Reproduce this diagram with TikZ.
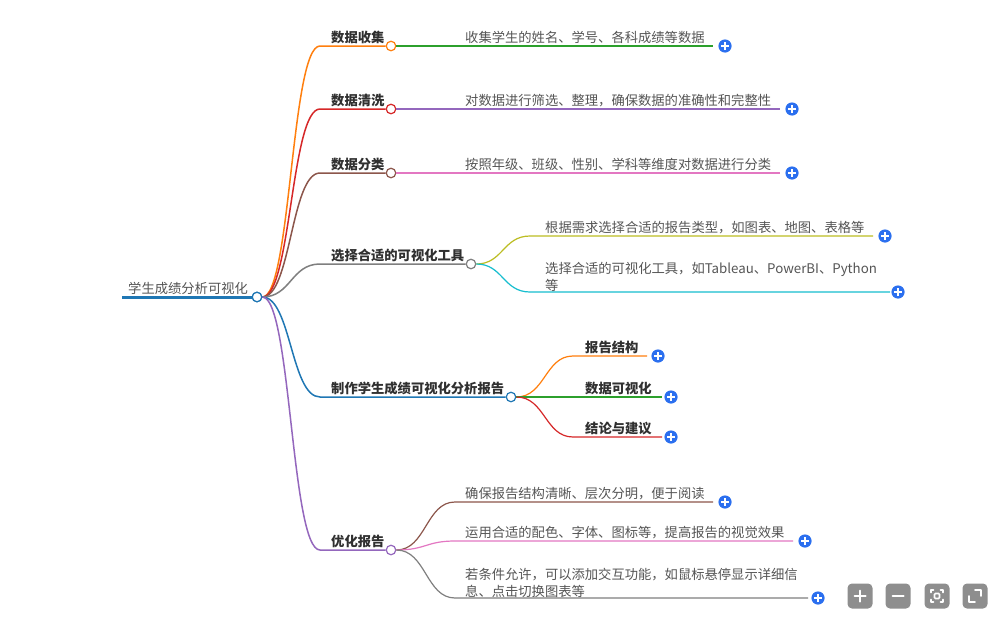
\documentclass[tikz,border=0pt]{standalone}
\usepackage{fontspec}
\setmainfont{Noto Sans CJK SC}
\definecolor{cblue}{HTML}{1F77B4}
\definecolor{corange}{HTML}{FF7F0E}
\definecolor{cgreen}{HTML}{2CA02C}
\definecolor{cred}{HTML}{D62728}
\definecolor{cpurple}{HTML}{9467BD}
\definecolor{cbrown}{HTML}{8C564B}
\definecolor{cpink}{HTML}{E377C2}
\definecolor{cgray}{HTML}{7F7F7F}
\definecolor{colive}{HTML}{BCBD22}
\definecolor{ccyan}{HTML}{17BECF}
\definecolor{plusblue}{HTML}{2B6FEF}
\definecolor{labgray}{HTML}{555555}
\definecolor{darktext}{HTML}{303030}
\definecolor{btngray}{HTML}{8E8E8E}
\tikzset{
  dot/.style={circle, draw=#1, fill=white, line width=1.2pt, minimum size=9.5pt, inner sep=0pt},
  lab/.style={anchor=south west, inner sep=0pt, text depth=0pt, align=left,
    font=\fontsize{13.3}{17}\selectfont, text=labgray},
  blab/.style={lab, font=\fontsize{13.3}{17}\selectfont\bfseries, text=darktext},
  link/.style={draw=#1, line width=1.5pt},
  sublink/.style={draw=#1, line width=1.2pt},
  plusbtn/.pic={\fill[plusblue] (0,0) circle (6.6);
    \draw[white, line width=1.4pt] (-3.6,0) -- (3.6,0) (0,-3.6) -- (0,3.6);},
  tbtn/.style={fill=btngray, rounded corners=4.5pt, minimum size=25pt, inner sep=0pt},
  ticon/.style={white, line width=2pt, line cap=round, line join=round}
}
\begin{document}
\begin{tikzpicture}[x=1pt,y=-1pt]
\fill[white] (0,0) rectangle (1000,624);
\useasboundingbox (0,0) rectangle (1000,624);

% ---------- root ----------
\coordinate (rs) at (122,297);
\node[dot=cblue] (r) at (257,297) {};
\draw[cblue, line width=3pt] (rs) -- (r.west);
\node[lab] (rt) at (128,294) {学生成绩分析可视化};

% ---------- level 1 circles ----------
\node[dot=corange] (n1) at (391,46) {};
\node[dot=cred] (n2) at (391,109) {};
\node[dot=cbrown] (n3) at (391,173) {};
\node[dot=cgray] (n4) at (471,264) {};
\node[dot=cblue] (n5) at (511,397) {};
\node[dot=cpurple] (n6) at (391,550) {};

\coordinate (n1s) at (320,46);
\coordinate (n2s) at (320,109);
\coordinate (n3s) at (320,173);
\coordinate (n4s) at (320,264);
\coordinate (n5s) at (320,397);
\coordinate (n6s) at (320,550);

\draw[link=corange] (r.east) .. controls (291,297) and (291,46) .. (n1s) -- (n1.west);
\draw[link=cred] (r.east) .. controls (291,297) and (291,109) .. (n2s) -- (n2.west);
\draw[link=cbrown] (r.east) .. controls (291,297) and (291,173) .. (n3s) -- (n3.west);
\draw[link=cgray] (r.east) .. controls (291,297) and (291,264) .. (n4s) -- (n4.west);
\draw[link=cblue] (r.east) .. controls (291,297) and (291,397) .. (n5s) -- (n5.west);
\draw[link=cpurple] (r.east) .. controls (291,297) and (291,550) .. (n6s) -- (n6.west);
\node[dot=cblue] at (257,297) {};

\node[blab] (t1) at (331,43) {数据收集};
\node[blab] (t2) at (331,106) {数据清洗};
\node[blab] (t3) at (331,170) {数据分类};
\node[blab] (t4) at (331,261) {选择合适的可视化工具};
\node[blab] (t5) at (331,394) {制作学生成绩可视化分析报告};
\node[blab] (t6) at (331,547) {优化报告};

% ---------- level 2 : 数据收集 / 清洗 / 分类 ----------
\coordinate (m1e) at (713,46);
\coordinate (m2e) at (780,109);
\coordinate (m3e) at (780,173);
\draw[sublink=cgreen] (n1.east) -- (m1e);
\draw[sublink=cpurple] (n2.east) -- (m2e);
\draw[sublink=cpink] (n3.east) -- (m3e);
\node[lab] (u1) at (465,43) {收集学生的姓名、学号、各科成绩等数据};
\node[lab] (u2) at (465,106) {对数据进行筛选、整理，确保数据的准确性和完整性};
\node[lab] (u3) at (465,170) {按照年级、班级、性别、学科等维度对数据进行分类};
\pic at (725,46) {plusbtn};
\pic at (792,109) {plusbtn};
\pic at (792,173) {plusbtn};

% ---------- level 2 : 选择合适的可视化工具 ----------
\coordinate (m4s) at (530,236);
\coordinate (m4e) at (873,236);
\coordinate (m5s) at (530,292);
\coordinate (m5e) at (890,292);
\draw[sublink=colive] (n4.east) .. controls (503,264) and (503,236) .. (m4s) -- (m4e);
\draw[sublink=ccyan] (n4.east) .. controls (503,264) and (503,292) .. (m5s) -- (m5e);
\node[lab] (u4) at (545,233) {根据需求选择合适的报告类型，如图表、地图、表格等};
\node[lab] (u5) at (545,290.5) {选择合适的可视化工具，如Tableau、PowerBI、Python\\等};
\pic at (885,236) {plusbtn};
\pic at (898,292) {plusbtn};

% ---------- level 2 : 制作学生成绩可视化分析报告 ----------
\coordinate (m6s) at (573,356);
\coordinate (m6e) at (647,356);
\coordinate (m7e) at (662,397);
\coordinate (m8s) at (573,437);
\coordinate (m8e) at (662,437);
\draw[sublink=corange] (n5.east) .. controls (545,397) and (545,356) .. (m6s) -- (m6e);
\draw[sublink=cgreen] (n5.east) -- (m7e);
\draw[sublink=cred] (n5.east) .. controls (545,397) and (545,437) .. (m8s) -- (m8e);
\node[blab] (u6) at (585,353) {报告结构};
\node[blab] (u7) at (585,394) {数据可视化};
\node[blab] (u8) at (585,434) {结论与建议};
\pic at (658,356) {plusbtn};
\pic at (671,397) {plusbtn};
\pic at (671,437) {plusbtn};

% ---------- level 2 : 优化报告 ----------
\coordinate (m9s) at (455,502);
\coordinate (m9e) at (713,502);
\coordinate (m10s) at (455,541);
\coordinate (m10e) at (793,541);
\coordinate (m11s) at (455,598);
\coordinate (m11e) at (808,598);
\draw[sublink=cbrown] (n6.east) .. controls (426,550) and (426,502) .. (m9s) -- (m9e);
\draw[sublink=cpink] (n6.east) .. controls (426,550) and (426,541) .. (m10s) -- (m10e);
\draw[sublink=cgray] (n6.east) .. controls (426,550) and (426,598) .. (m11s) -- (m11e);
\node[lab] (u9) at (465,499) {确保报告结构清晰、层次分明，便于阅读};
\node[lab] (u10) at (465,538) {运用合适的配色、字体、图标等，提高报告的视觉效果};
\node[lab] (u11) at (465,596.5) {若条件允许，可以添加交互功能，如鼠标悬停显示详细信\\息、点击切换图表等};
\pic at (725,502) {plusbtn};
\pic at (805,541) {plusbtn};
\pic at (818,598) {plusbtn};

% ---------- toolbar ----------
\node[tbtn] (b1) at (860,596) {};
\node[tbtn] (b2) at (898,596) {};
\node[tbtn] (b3) at (937,596) {};
\node[tbtn] (b4) at (975,596) {};
\draw[ticon] (854.5,596) -- (865.5,596) (860,590.5) -- (860,601.5);
\draw[ticon] (892.5,596) -- (903.5,596);
\draw[ticon, line width=1.6pt] (931,592.5) -- (931,590) -- (933.5,590)
  (940.5,590) -- (943,590) -- (943,592.5)
  (943,599.5) -- (943,602) -- (940.5,602)
  (933.5,602) -- (931,602) -- (931,599.5);
\draw[white, line width=1.6pt, rounded corners=1pt] (934.5,593.5) rectangle (939.5,598.5);
\draw[ticon, line width=1.6pt] (975,590) -- (981,590) -- (981,596)
  (969,596) -- (969,602) -- (975,602);
\end{tikzpicture}
\end{document}
